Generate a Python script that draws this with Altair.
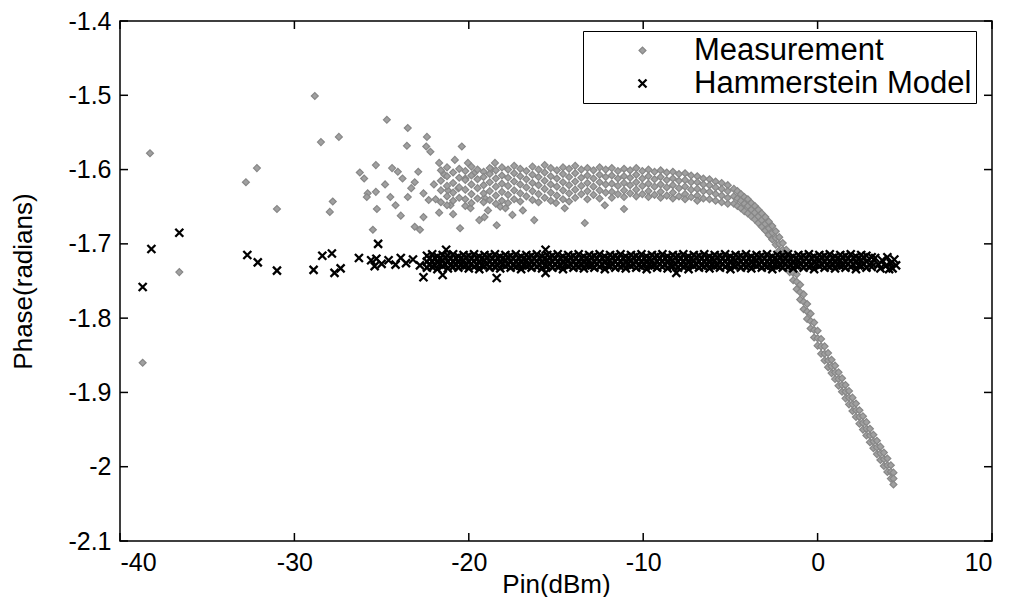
import altair as alt
import pandas as pd

series_names = ["Measurement", "Hammerstein Model"]
x_ticks = [-40, -30, -20, -10, 0, 10]
y_ticks = [-2.1, -2.0, -1.9, -1.8, -1.7, -1.6, -1.5, -1.4]

# Measurement: isolated points (Pin dBm, phase rad)
meas_outliers = [
    (-38.28, -1.578), (-38.7, -1.860), (-36.6, -1.738), (-32.78, -1.617), (-32.15, -1.598),
    (-31.0, -1.653), (-28.83, -1.501), (-28.48, -1.563), (-27.45, -1.556), (-27.8, -1.643),
    (-27.97, -1.657), (-26.25, -1.604), (-25.33, -1.594), (-25.8, -1.632), (-25.33, -1.630),
    (-25.85, -1.637), (-24.5, -1.637), (-25.27, -1.653), (-25.5, -1.681), (-24.7, -1.533),
    (-24.4, -1.598), (-24.07, -1.603), (-23.5, -1.544), (-22.4, -1.556), (-23.55, -1.568),
    (-22.44, -1.569), (-22.2, -1.576), (-20.4, -1.569), (-21.7, -1.591), (-18.5, -1.591),
    (-20.8, -1.587), (-20.05, -1.591), (-13.35, -1.672), (-16.25, -1.668), (-18.4, -1.675),
    (-20.5, -1.679), (-22.8, -1.681), (-23.1, -1.677), (-11.1, -1.653), (-17.5, -1.661),
    (-19.1, -1.664), (-18.2, -1.650), (-21.7, -1.658), (-21.05, -1.648), (-22.6, -1.664),
    (-23.5, -1.637), (-23.1, -1.617), (-22.6, -1.632), (-22.3, -1.641), (-20.6, -1.625),
    (-19.7, -1.605), (-21.4, -1.607), (-19.1, -1.638),
    (-23.8, -1.612), (-23.3, -1.625), (-22.9, -1.603), (-22.0, -1.620), (-21.9, -1.640),
    (-21.2, -1.628), (-20.9, -1.660), (-20.2, -1.612), (-19.9, -1.652), (-19.4, -1.668),
    (-18.9, -1.655), (-18.7, -1.600), (-17.9, -1.652), (-16.9, -1.655), (-15.0, -1.645),
    (-14.5, -1.652), (-12.2, -1.648), (-24.2, -1.648), (-23.9, -1.662), (-24.8, -1.620),
    (-26.0, -1.612),
]

# Measurement: dense flat band (x -> phases seen at that Pin)
meas_band = {
    -21.6: [-1.601, -1.615, -1.628, -1.644],
    -21.25: [-1.597, -1.609, -1.622, -1.636, -1.648],
    -20.9: [-1.604, -1.618, -1.631, -1.642],
    -20.55: [-1.599, -1.611, -1.624, -1.638],
    -20.2: [-1.602, -1.614, -1.627, -1.640, -1.649],
    -19.85: [-1.596, -1.608, -1.620, -1.633, -1.645],
    -19.5: [-1.600, -1.613, -1.625, -1.639],
    -19.15: [-1.603, -1.610, -1.621, -1.632, -1.644],
    -18.8: [-1.598, -1.606, -1.617, -1.629, -1.641],
    -18.45: [-1.601, -1.612, -1.623, -1.635, -1.646],
    -18.1: [-1.597, -1.608, -1.619, -1.630, -1.642],
    -17.75: [-1.600, -1.611, -1.622, -1.634, -1.645],
    -17.4: [-1.595, -1.605, -1.616, -1.628, -1.640],
    -17.05: [-1.599, -1.609, -1.620, -1.632, -1.643],
    -16.7: [-1.602, -1.613, -1.624, -1.636],
    -16.35: [-1.596, -1.607, -1.618, -1.629, -1.641],
    -16.0: [-1.600, -1.610, -1.621, -1.633, -1.644],
    -15.65: [-1.594, -1.604, -1.615, -1.626, -1.638],
    -15.3: [-1.598, -1.609, -1.620, -1.631, -1.642],
    -14.95: [-1.601, -1.612, -1.623, -1.635],
    -14.6: [-1.597, -1.606, -1.617, -1.628, -1.640],
    -14.25: [-1.599, -1.610, -1.621, -1.632, -1.643],
    -13.9: [-1.595, -1.605, -1.616, -1.627, -1.638],
    -13.55: [-1.600, -1.611, -1.622, -1.633],
    -13.2: [-1.598, -1.608, -1.618, -1.629, -1.640],
    -12.85: [-1.601, -1.612, -1.623, -1.634],
    -12.5: [-1.597, -1.607, -1.617, -1.628, -1.639],
    -12.15: [-1.600, -1.610, -1.620, -1.631],
    -11.8: [-1.598, -1.608, -1.619, -1.630, -1.638],
    -11.45: [-1.602, -1.612, -1.622, -1.633],
    -11.1: [-1.599, -1.609, -1.618, -1.628, -1.637],
    -10.75: [-1.601, -1.611, -1.621, -1.632],
    -10.4: [-1.598, -1.607, -1.617, -1.627, -1.636],
    -10.05: [-1.602, -1.612, -1.622, -1.633],
    -9.7: [-1.600, -1.609, -1.619, -1.629, -1.637],
    -9.35: [-1.603, -1.613, -1.623, -1.634],
    -9.0: [-1.601, -1.610, -1.620, -1.630, -1.638],
    -8.65: [-1.604, -1.614, -1.624, -1.635],
    -8.3: [-1.603, -1.612, -1.621, -1.631, -1.639],
    -7.95: [-1.606, -1.615, -1.625, -1.636],
    -7.6: [-1.605, -1.614, -1.623, -1.633, -1.640],
    -7.25: [-1.608, -1.617, -1.627, -1.637],
    -6.9: [-1.609, -1.617, -1.626, -1.635, -1.642],
    -6.55: [-1.612, -1.620, -1.629, -1.639],
    -6.2: [-1.613, -1.621, -1.630, -1.640],
    -5.85: [-1.616, -1.624, -1.633, -1.642],
    -5.5: [-1.618, -1.626, -1.635, -1.644],
    -5.15: [-1.621, -1.629, -1.638, -1.646],
}

# Measurement: compression knee and steep drop
meas_drop = {
    -4.8: [-1.626, -1.636, -1.646], -4.6: [-1.629, -1.639, -1.649],
    -4.4: [-1.633, -1.642, -1.652], -4.2: [-1.637, -1.646, -1.656],
    -4.0: [-1.640, -1.649, -1.659], -3.8: [-1.645, -1.654, -1.663],
    -3.6: [-1.649, -1.658, -1.667], -3.4: [-1.654, -1.663, -1.672],
    -3.2: [-1.659, -1.668, -1.677], -3.0: [-1.664, -1.673, -1.682],
    -2.8: [-1.670, -1.679, -1.688], -2.6: [-1.676, -1.685, -1.694],
    -2.4: [-1.683, -1.692, -1.701], -2.2: [-1.691, -1.700, -1.709],
    -2.0: [-1.699, -1.708, -1.717], -1.8: [-1.708, -1.717, -1.727],
    -1.6: [-1.718, -1.728, -1.738], -1.4: [-1.729, -1.739, -1.749],
    -1.2: [-1.741, -1.751, -1.761], -1.0: [-1.755, -1.765, -1.775],
    -0.8: [-1.768, -1.778, -1.788], -0.6: [-1.781, -1.791, -1.801],
    -0.4: [-1.794, -1.804, -1.814], -0.2: [-1.806, -1.816, -1.826],
    0.0: [-1.817, -1.827, -1.837], 0.2: [-1.828, -1.838, -1.848],
    0.4: [-1.838, -1.848, -1.857], 0.6: [-1.847, -1.857, -1.866],
    0.8: [-1.856, -1.865, -1.874], 1.0: [-1.864, -1.873, -1.882],
    1.2: [-1.873, -1.882, -1.891], 1.4: [-1.881, -1.890, -1.899],
    1.6: [-1.890, -1.899, -1.908], 1.8: [-1.898, -1.907, -1.916],
    2.0: [-1.907, -1.916, -1.925], 2.2: [-1.915, -1.924, -1.933],
    2.4: [-1.924, -1.933, -1.942], 2.6: [-1.932, -1.941, -1.950],
    2.8: [-1.940, -1.949, -1.958], 3.0: [-1.949, -1.958, -1.967],
    3.2: [-1.957, -1.966, -1.975], 3.4: [-1.965, -1.974, -1.983],
    3.6: [-1.973, -1.982, -1.991], 3.8: [-1.981, -1.990, -1.999],
    4.0: [-1.989, -1.998, -2.007], 4.2: [-1.998, -2.007, -2.016],
    4.35: [-2.008, -2.016, -2.024],
}

# Hammerstein model: isolated crosses
model_outliers = [
    (-38.7, -1.758), (-38.2, -1.707), (-36.6, -1.685), (-32.7, -1.715), (-32.1, -1.725),
    (-31.0, -1.736), (-28.9, -1.735), (-28.4, -1.716), (-27.85, -1.713), (-27.7, -1.739),
    (-27.35, -1.733), (-26.3, -1.719), (-25.2, -1.700), (-25.6, -1.722), (-25.3, -1.720),
    (-25.0, -1.727), (-25.4, -1.730), (-24.6, -1.722), (-24.2, -1.728), (-23.9, -1.719),
    (-23.6, -1.726), (-23.2, -1.721), (-22.8, -1.729), (-22.6, -1.745), (-21.5, -1.742),
    (-21.3, -1.708), (-18.4, -1.746), (-15.6, -1.708), (-15.6, -1.739), (-8.1, -1.739),
    (3.3, -1.719), (3.5, -1.728), (3.7, -1.722), (3.9, -1.730), (4.0, -1.718),
    (4.2, -1.726), (4.4, -1.721), (4.5, -1.729), (4.3, -1.733), (3.6, -1.733), (4.1, -1.734),
]

# Hammerstein model: dense band, main columns
model_band = {
    -22.4: [-1.716, -1.724, -1.732], -22.1: [-1.714, -1.723, -1.731],
    -21.8: [-1.717, -1.725, -1.734], -21.5: [-1.715, -1.722, -1.730],
    -21.2: [-1.716, -1.724, -1.733], -20.9: [-1.714, -1.723, -1.731],
    -20.6: [-1.717, -1.725, -1.732], -20.3: [-1.715, -1.722, -1.730],
    -20.0: [-1.716, -1.724, -1.733], -19.7: [-1.714, -1.723, -1.731],
    -19.4: [-1.717, -1.725, -1.734], -19.1: [-1.715, -1.722, -1.730],
    -18.8: [-1.716, -1.724, -1.732], -18.5: [-1.714, -1.723, -1.731],
    -18.2: [-1.717, -1.725, -1.733], -17.9: [-1.715, -1.722, -1.730],
    -17.6: [-1.716, -1.724, -1.732], -17.3: [-1.714, -1.723, -1.731],
    -17.0: [-1.717, -1.725, -1.734], -16.7: [-1.715, -1.722, -1.730],
    -16.4: [-1.716, -1.724, -1.732], -16.1: [-1.714, -1.723, -1.731],
    -15.8: [-1.717, -1.725, -1.733], -15.5: [-1.715, -1.722, -1.730],
    -15.2: [-1.716, -1.724, -1.732], -14.9: [-1.714, -1.723, -1.731],
    -14.6: [-1.717, -1.725, -1.734], -14.3: [-1.715, -1.722, -1.730],
    -14.0: [-1.716, -1.724, -1.732], -13.7: [-1.714, -1.723, -1.731],
    -13.4: [-1.717, -1.725, -1.733], -13.1: [-1.715, -1.722, -1.730],
    -12.8: [-1.716, -1.724, -1.732], -12.5: [-1.714, -1.723, -1.731],
    -12.2: [-1.717, -1.725, -1.734], -11.9: [-1.715, -1.722, -1.730],
    -11.6: [-1.716, -1.724, -1.732], -11.3: [-1.714, -1.723, -1.731],
    -11.0: [-1.717, -1.725, -1.733], -10.7: [-1.715, -1.722, -1.730],
    -10.4: [-1.716, -1.724, -1.732], -10.1: [-1.714, -1.723, -1.731],
    -9.8: [-1.717, -1.725, -1.734], -9.5: [-1.715, -1.722, -1.730],
    -9.2: [-1.716, -1.724, -1.732], -8.9: [-1.714, -1.723, -1.731],
    -8.6: [-1.717, -1.725, -1.733], -8.3: [-1.715, -1.722, -1.730],
    -8.0: [-1.716, -1.724, -1.732], -7.7: [-1.714, -1.723, -1.731],
    -7.4: [-1.717, -1.725, -1.734], -7.1: [-1.715, -1.722, -1.730],
    -6.8: [-1.716, -1.724, -1.732], -6.5: [-1.714, -1.723, -1.731],
    -6.2: [-1.717, -1.725, -1.733], -5.9: [-1.715, -1.722, -1.730],
    -5.6: [-1.716, -1.724, -1.732], -5.3: [-1.714, -1.723, -1.731],
    -5.0: [-1.717, -1.725, -1.734], -4.7: [-1.715, -1.722, -1.730],
    -4.4: [-1.716, -1.724, -1.732], -4.1: [-1.714, -1.723, -1.731],
    -3.8: [-1.717, -1.725, -1.733], -3.5: [-1.715, -1.722, -1.730],
    -3.2: [-1.716, -1.724, -1.732], -2.9: [-1.714, -1.723, -1.731],
    -2.6: [-1.717, -1.725, -1.734], -2.3: [-1.715, -1.722, -1.730],
    -2.0: [-1.716, -1.724, -1.732], -1.7: [-1.714, -1.723, -1.731],
    -1.4: [-1.717, -1.725, -1.733], -1.1: [-1.715, -1.722, -1.730],
    -0.8: [-1.716, -1.724, -1.732], -0.5: [-1.714, -1.723, -1.731],
    -0.2: [-1.717, -1.725, -1.734], 0.1: [-1.715, -1.722, -1.730],
    0.4: [-1.716, -1.724, -1.732], 0.7: [-1.714, -1.723, -1.731],
    1.0: [-1.717, -1.725, -1.733], 1.3: [-1.715, -1.722, -1.730],
    1.6: [-1.716, -1.724, -1.732], 1.9: [-1.714, -1.723, -1.731],
    2.2: [-1.717, -1.725, -1.734], 2.5: [-1.715, -1.722, -1.730],
    2.8: [-1.716, -1.724, -1.732], 3.1: [-1.718, -1.726, -1.731],
}

# Hammerstein model: dense band, in-between columns
model_band_mid = {
    -22.25: [-1.720, -1.728], -21.95: [-1.719, -1.729], -21.65: [-1.720, -1.727],
    -21.35: [-1.718, -1.728], -21.05: [-1.720, -1.729], -20.75: [-1.719, -1.727],
    -20.45: [-1.720, -1.728], -20.15: [-1.718, -1.729], -19.85: [-1.720, -1.727],
    -19.55: [-1.719, -1.728], -19.25: [-1.720, -1.729], -18.95: [-1.718, -1.727],
    -18.65: [-1.720, -1.728], -18.35: [-1.719, -1.729], -18.05: [-1.720, -1.727],
    -17.75: [-1.718, -1.728], -17.45: [-1.720, -1.729], -17.15: [-1.719, -1.727],
    -16.85: [-1.720, -1.728], -16.55: [-1.718, -1.729], -16.25: [-1.720, -1.727],
    -15.95: [-1.719, -1.728], -15.65: [-1.720, -1.729], -15.35: [-1.718, -1.727],
    -15.05: [-1.720, -1.728], -14.75: [-1.719, -1.729], -14.45: [-1.720, -1.727],
    -14.15: [-1.718, -1.728], -13.85: [-1.720, -1.729], -13.55: [-1.719, -1.727],
    -13.25: [-1.720, -1.728], -12.95: [-1.718, -1.729], -12.65: [-1.720, -1.727],
    -12.35: [-1.719, -1.728], -12.05: [-1.720, -1.729], -11.75: [-1.718, -1.727],
    -11.45: [-1.720, -1.728], -11.15: [-1.719, -1.729], -10.85: [-1.720, -1.727],
    -10.55: [-1.718, -1.728], -10.25: [-1.720, -1.729], -9.95: [-1.719, -1.727],
    -9.65: [-1.720, -1.728], -9.35: [-1.718, -1.729], -9.05: [-1.720, -1.727],
    -8.75: [-1.719, -1.728], -8.45: [-1.720, -1.729], -8.15: [-1.718, -1.727],
    -7.85: [-1.720, -1.728], -7.55: [-1.719, -1.729], -7.25: [-1.720, -1.727],
    -6.95: [-1.718, -1.728], -6.65: [-1.720, -1.729], -6.35: [-1.719, -1.727],
    -6.05: [-1.720, -1.728], -5.75: [-1.718, -1.729], -5.45: [-1.720, -1.727],
    -5.15: [-1.719, -1.728], -4.85: [-1.720, -1.729], -4.55: [-1.718, -1.727],
    -4.25: [-1.720, -1.728], -3.95: [-1.719, -1.729], -3.65: [-1.720, -1.727],
    -3.35: [-1.718, -1.728], -3.05: [-1.720, -1.729], -2.75: [-1.719, -1.727],
    -2.45: [-1.720, -1.728], -2.15: [-1.718, -1.729], -1.85: [-1.720, -1.727],
    -1.55: [-1.719, -1.728], -1.25: [-1.720, -1.729], -0.95: [-1.718, -1.727],
    -0.65: [-1.720, -1.728], -0.35: [-1.719, -1.729], -0.05: [-1.720, -1.727],
    0.25: [-1.718, -1.728], 0.55: [-1.720, -1.729], 0.85: [-1.719, -1.727],
    1.15: [-1.720, -1.728], 1.45: [-1.718, -1.729], 1.75: [-1.720, -1.727],
    2.05: [-1.719, -1.728], 2.35: [-1.720, -1.729], 2.65: [-1.718, -1.727],
}

rows = []
for x, y in meas_outliers:
    rows.append({"series": series_names[0], "x": x, "y": y})
for group in (meas_band, meas_drop):
    for x, ys in group.items():
        for y in ys:
            rows.append({"series": series_names[0], "x": x, "y": y})
for x, y in model_outliers:
    rows.append({"series": series_names[1], "x": x, "y": y})
for group in (model_band, model_band_mid):
    for x, ys in group.items():
        for y in ys:
            rows.append({"series": series_names[1], "x": x, "y": y})
df = pd.DataFrame(rows)

W, H = 872, 520
FONT = "Liberation Sans"
scale_x = alt.Scale(domain=[-40, 10], nice=False, zero=False)
scale_y = alt.Scale(domain=[-2.1, -1.4], nice=False, zero=False)
cross_path = "M-1,-1L1,1M-1,1L1,-1"

legend = alt.Legend(
    title=None, orient="none", legendX=463, legendY=10, direction="vertical",
    strokeColor="black", fillColor="white", padding=4, rowPadding=1,
    labelFontSize=31, labelFont=FONT, labelColor="black", labelLimit=1000,
    symbolSize=30, symbolStrokeWidth=1.5, symbolOffset=40, labelOffset=36,
)

points = alt.Chart(df).mark_point(filled=True, opacity=1).encode(
    x=alt.X("x:Q", scale=scale_x,
            axis=alt.Axis(values=x_ticks, title="Pin(dBm)", labelExpr="'' + datum.value",
                          labelPadding=9, titleY=30, titleBaseline="top")),
    y=alt.Y("y:Q", scale=scale_y,
            axis=alt.Axis(values=y_ticks, title="Phase(radians)", labelExpr="'' + datum.value",
                          labelPadding=9, titleX=-84, titleY=H / 2)),
    color=alt.Color("series:N", scale=alt.Scale(domain=series_names, range=["#a0a0a0", "#000000"]),
                    legend=legend),
    stroke=alt.Stroke("series:N", scale=alt.Scale(domain=series_names, range=["#878787", "#000000"]),
                      legend=legend),
    shape=alt.Shape("series:N", scale=alt.Scale(domain=series_names, range=["diamond", cross_path]),
                    legend=legend),
    size=alt.Size("series:N", scale=alt.Scale(domain=series_names, range=[48, 64]), legend=None),
    strokeWidth=alt.StrokeWidth("series:N", scale=alt.Scale(domain=series_names, range=[1.2, 2.3]),
                                legend=None),
)

xt = pd.DataFrame({"x": x_ticks})
yt = pd.DataFrame({"y": y_ticks})
tick_style = dict(color="black", strokeWidth=1.5)
bottom_ticks = alt.Chart(xt).mark_rule(**tick_style).encode(
    x=alt.X("x:Q", scale=scale_x), y=alt.value(H), y2=alt.value(H - 8))
top_ticks = alt.Chart(xt).mark_rule(**tick_style).encode(
    x=alt.X("x:Q", scale=scale_x), y=alt.value(0), y2=alt.value(8))
left_ticks = alt.Chart(yt).mark_rule(**tick_style).encode(
    y=alt.Y("y:Q", scale=scale_y), x=alt.value(0), x2=alt.value(8))
right_ticks = alt.Chart(yt).mark_rule(**tick_style).encode(
    y=alt.Y("y:Q", scale=scale_y), x=alt.value(W), x2=alt.value(W - 8))

chart = alt.layer(points, bottom_ticks, top_ticks, left_ticks, right_ticks).properties(
    width=W, height=H,
    autosize=alt.AutoSizeParams(type="none"),
    padding={"left": 112, "top": 13, "right": 12, "bottom": 56},
    background="white",
).configure_view(
    stroke="black", strokeWidth=1.5
).configure_axis(
    grid=False, domain=False, ticks=False,
    labelFont=FONT, titleFont=FONT, labelFontSize=25, titleFontSize=26,
    labelColor="black", titleColor="black", titleFontWeight="normal",
)

chart.save("out.html", embed_options={"renderer": "svg", "actions": False})
